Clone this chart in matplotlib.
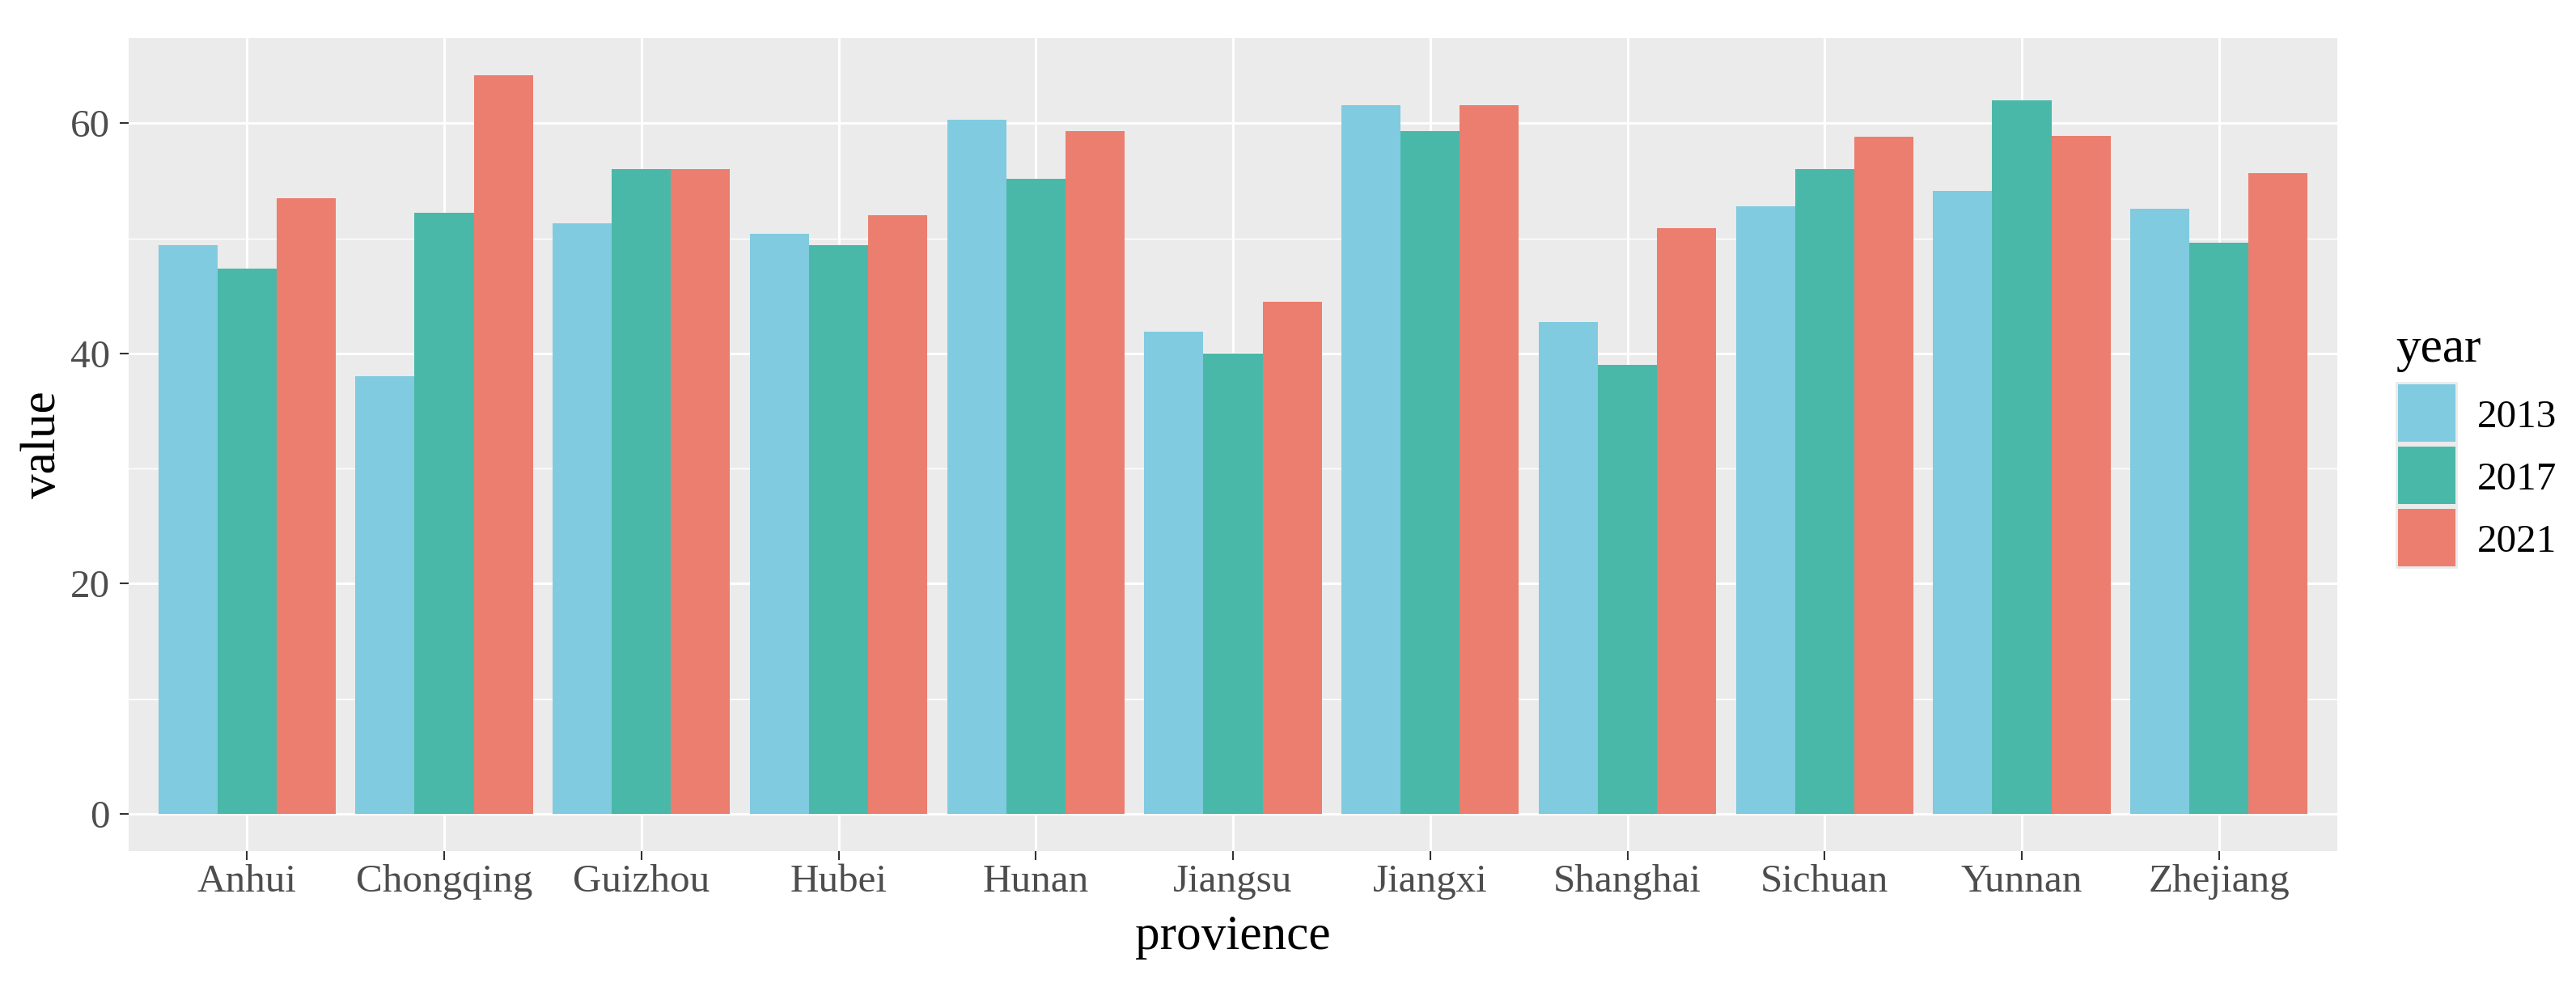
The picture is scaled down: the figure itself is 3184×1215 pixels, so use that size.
import numpy as np
import matplotlib
matplotlib.use("Agg")
import matplotlib.pyplot as plt
from matplotlib.patches import Rectangle
from matplotlib.ticker import MultipleLocator

provinces = ["Anhui", "Chongqing", "Guizhou", "Hubei", "Hunan", "Jiangsu",
             "Jiangxi", "Shanghai", "Sichuan", "Yunnan", "Zhejiang"]
years = ["2013", "2017", "2021"]
v2013 = [49.4, 38.0, 51.3, 50.4, 60.3, 41.9, 61.6, 42.7, 52.8, 54.1, 52.6]
v2017 = [47.4, 52.2, 56.0, 49.4, 55.2, 40.0, 59.3, 39.0, 56.0, 62.0, 49.6]
v2021 = [53.5, 64.2, 56.0, 52.0, 59.3, 44.5, 61.6, 50.9, 58.8, 58.9, 55.7]
series = [v2013, v2017, v2021]
colors = ["#80CBDF", "#4AB8A8", "#EB7E6F"]

plt.rcParams["font.family"] = ["Liberation Serif", "DejaVu Serif"]

W, H = 3184, 1215
fig = plt.figure(figsize=(W / 300, H / 300), dpi=300)
pl, pr, pt, pb = 159, 2889, 47, 1051.5
ax = fig.add_axes([pl / W, 1 - pb / H, (pr - pl) / W, (pb - pt) / H])
ax.set_facecolor("#EBEBEB")

x = np.arange(len(provinces))
w = 0.3
for i, (vals, c) in enumerate(zip(series, colors)):
    ax.bar(x + (i - 1) * w, vals, width=w, color=c, linewidth=0, zorder=3)

vmax = max(max(s) for s in series)
ax.set_ylim(-0.05 * vmax, vmax * 1.05)
ax.set_xlim(-0.6, len(provinces) - 0.4)
ax.yaxis.set_major_locator(MultipleLocator(20))
ax.yaxis.set_minor_locator(MultipleLocator(10))
ax.set_xticks(x)
ax.set_xticklabels(provinces)

ax.grid(which="major", color="white", linewidth=0.7, zorder=1)
ax.grid(which="minor", axis="y", color="white", linewidth=0.35, zorder=1)
ax.set_axisbelow(True)
for s in ax.spines.values():
    s.set_visible(False)

ax.tick_params(which="major", length=2.64, width=0.5, color="#333333",
               labelsize=11.8, labelcolor="#4D4D4D")
ax.tick_params(axis="x", pad=1.2)
ax.tick_params(axis="y", pad=2.9)
ax.tick_params(which="minor", length=0)

ax.set_xlabel("provience", fontsize=14.7, color="black")
ax.xaxis.label.set_va("baseline")
ax.xaxis.set_label_coords(0.5, (pb - 1173) / (pb - pt))
ax.set_ylabel("value", fontsize=14.7, color="black")
ax.yaxis.label.set_va("baseline")
ax.yaxis.set_label_coords((68 - pl) / (pr - pl), 0.5)

# legend (drawn manually to match ggplot key layout)
kx0, ky0, cell, inset = 2961, 472, 77, 3
fig.add_artist(Rectangle((kx0 / W, 1 - (ky0 + 3 * cell) / H), cell / W, 3 * cell / H,
                         transform=fig.transFigure, facecolor="#EBEBEB",
                         edgecolor="none"))
for i, (yr, c) in enumerate(zip(years, colors)):
    top = ky0 + i * cell
    fig.add_artist(Rectangle(((kx0 + inset) / W, 1 - (top + cell - inset) / H),
                             (cell - 2 * inset) / W, (cell - 2 * inset) / H,
                             transform=fig.transFigure, facecolor=c,
                             edgecolor="none"))
    fig.text(3062 / W, 1 - (top + cell / 2) / H, yr, fontsize=11.8,
             color="black", ha="left", va="center_baseline")
fig.text(kx0 / W, 1 - 447 / H, "year", fontsize=14.7, color="black",
         ha="left", va="baseline")

fig.savefig("out.png", dpi=300)
